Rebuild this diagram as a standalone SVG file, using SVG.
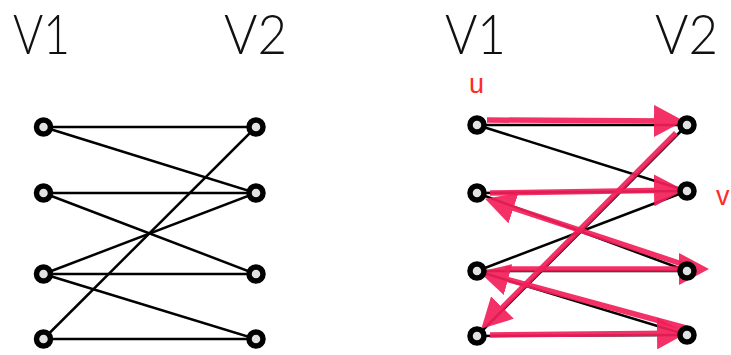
<svg xmlns="http://www.w3.org/2000/svg" width="731" height="355" viewBox="0 0 731 355">
<style>
.title{font-family:Lato,"Liberation Sans",sans-serif;font-weight:300;font-size:55px;fill:#111}
.lbl{font-family:"Liberation Sans",sans-serif;font-size:27px;fill:#ff2a2a}
.edge{stroke:#000;stroke-width:2.5;fill:none}
.path{stroke:#f3205a;stroke-width:5.5;fill:none;opacity:0.92;marker-end:url(#ah)}
.node{fill:#e2e2e2;stroke:#000;stroke-width:5.5}
</style>
<defs>
<marker id="ah" markerUnits="userSpaceOnUse" markerWidth="30" markerHeight="32" refX="14" refY="16" orient="auto">
<path d="M0,0 L30,16 L0,32 Z" fill="#f3205a"/>
</marker>
</defs>
<rect width="731" height="355" fill="#fff"/>
<g id="titles">
<text class="title" x="13" y="54" textLength="57" lengthAdjust="spacingAndGlyphs">V1</text>
<text class="title" x="224" y="54" textLength="63" lengthAdjust="spacingAndGlyphs">V2</text>
<text class="title" x="445" y="54" textLength="61" lengthAdjust="spacingAndGlyphs">V1</text>
<text class="title" x="655" y="54" textLength="63" lengthAdjust="spacingAndGlyphs">V2</text>
<text class="lbl" x="469" y="93">u</text>
<text class="lbl" x="716" y="205">v</text>
</g>
<g id="connectors">
<line class="edge" x1="43.5" y1="127" x2="256" y2="127"/>
<line class="edge" x1="43.5" y1="127" x2="256" y2="193"/>
<line class="edge" x1="43.5" y1="193" x2="256" y2="193"/>
<line class="edge" x1="43.5" y1="193" x2="256" y2="274"/>
<line class="edge" x1="43.5" y1="274" x2="256" y2="193"/>
<line class="edge" x1="43.5" y1="274" x2="256" y2="274"/>
<line class="edge" x1="43.5" y1="274" x2="256" y2="339"/>
<line class="edge" x1="43.5" y1="339" x2="256" y2="127"/>
<line class="edge" x1="43.5" y1="339" x2="256" y2="339"/>

<line class="edge" x1="477" y1="125" x2="687" y2="125"/>
<line class="edge" x1="477" y1="125" x2="687" y2="191"/>
<line class="edge" x1="477" y1="193" x2="687" y2="191"/>
<line class="edge" x1="477" y1="193" x2="687" y2="271"/>
<line class="edge" x1="477" y1="271" x2="687" y2="191"/>
<line class="edge" x1="477" y1="271" x2="687" y2="271"/>
<line class="edge" x1="477" y1="271" x2="687" y2="335"/>
<line class="edge" x1="477" y1="336" x2="687" y2="125"/>
<line class="edge" x1="477" y1="336" x2="687" y2="335"/>

<line class="path" x1="487" y1="120" x2="668" y2="121"/>
<line class="path" x1="676" y1="133" x2="492.6" y2="317.4"/>
<line class="path" x1="490" y1="335" x2="671" y2="333.2"/>
<line class="path" x1="686" y1="328" x2="494.5" y2="275.9"/>
<line class="path" x1="505" y1="269" x2="693" y2="269"/>
<line class="path" x1="682" y1="264" x2="500.2" y2="203.7"/>
<line class="path" x1="490" y1="193" x2="668" y2="190.2"/>
</g>
<g id="nodes">
<g id="L-V1-1"><circle class="node" cx="43.5" cy="127" r="7"/></g>
<g id="L-V1-2"><circle class="node" cx="43.5" cy="193" r="7"/></g>
<g id="L-V1-3"><circle class="node" cx="43.5" cy="274" r="7"/></g>
<g id="L-V1-4"><circle class="node" cx="43.5" cy="339" r="7"/></g>
<g id="L-V2-1"><circle class="node" cx="256" cy="127" r="7"/></g>
<g id="L-V2-2"><circle class="node" cx="256" cy="193" r="7"/></g>
<g id="L-V2-3"><circle class="node" cx="256" cy="274" r="7"/></g>
<g id="L-V2-4"><circle class="node" cx="256" cy="339" r="7"/></g>
<g id="R-V1-1"><circle class="node" cx="477" cy="125" r="7"/></g>
<g id="R-V1-2"><circle class="node" cx="477" cy="193" r="7"/></g>
<g id="R-V1-3"><circle class="node" cx="477" cy="271" r="7"/></g>
<g id="R-V1-4"><circle class="node" cx="477" cy="336" r="7"/></g>
<g id="R-V2-1"><circle class="node" cx="687" cy="125" r="7"/></g>
<g id="R-V2-2"><circle class="node" cx="687" cy="191" r="7"/></g>
<g id="R-V2-3"><circle class="node" cx="687" cy="271" r="7"/></g>
<g id="R-V2-4"><circle class="node" cx="687" cy="335" r="7"/></g>
</g>
</svg>
